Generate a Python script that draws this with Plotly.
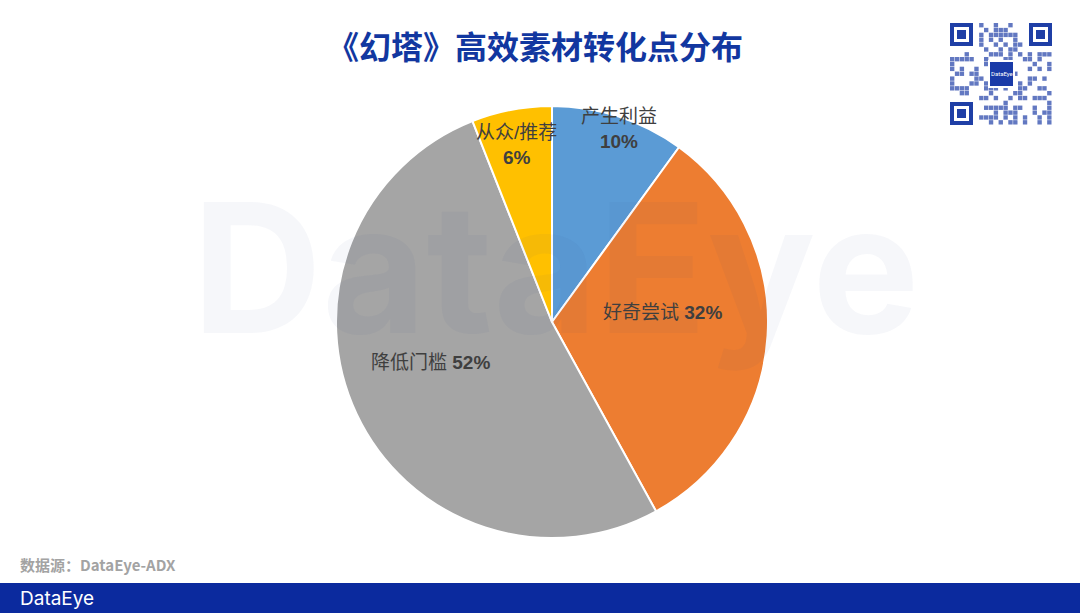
import hashlib
import plotly.graph_objects as go

# 数据
categories = ["产生利益", "好奇尝试", "降低门槛", "从众/推荐"]
values = [10, 32, 52, 6]
colors = ["#5B9BD5", "#ED7D31", "#A5A5A5", "#FFC000"]

W, H = 1080, 613
FONT = "Noto Sans CJK SC"
LABEL_FONT = "Liberation Sans, Noto Sans CJK SC"


def px_x(x):
    return x / W


def px_y(y):
    return 1 - y / H


def text_at(x, y, text, size, color, family=FONT, xanchor="center"):
    return dict(
        x=px_x(x), y=px_y(y), xref="paper", yref="paper",
        xanchor=xanchor, yanchor="middle",
        text=text, showarrow=False, align="center",
        font=dict(family=family, size=size, color=color),
    )


fig = go.Figure()

fig.add_trace(
    go.Pie(
        labels=categories,
        values=values,
        sort=False,
        direction="clockwise",
        rotation=0,
        marker=dict(colors=colors, line=dict(color="white", width=2)),
        textinfo="none",
        hoverinfo="label+percent",
        domain=dict(x=[px_x(336), px_x(768)], y=[px_y(538), px_y(106)]),
        showlegend=False,
    )
)

# 扇区标签 (位置按参考图)
label_pos = {
    "产生利益": (619, 129, True),
    "好奇尝试": (662, 313, False),
    "降低门槛": (430, 362, False),
    "从众/推荐": (516, 145, True),
}
annotations = []

# 水印
annotations.append(
    text_at(555, 268, "<b>DataEye</b>", 180, "rgba(40,70,150,0.045)",
            family="Inter, Roboto, sans-serif")
)

for cat, val in zip(categories, values):
    x, y, two_line = label_pos[cat]
    sep = "<br>" if two_line else " "
    annotations.append(
        text_at(x, y, f"{cat}{sep}<b>{val}%</b>", 19, "#3F3F3F", family=LABEL_FONT)
    )

# 标题
annotations.append(
    text_at(535, 45, "<b>《幻塔》高效素材转化点分布</b>", 32, "#1237A0")
)

# 数据源
annotations.append(
    text_at(18, 564, "<b>数据源：DataEye-ADX</b>", 15, "#A3A3A3", xanchor="left")
)

# 底部 logo
annotations.append(
    text_at(18, 598, "DataEye", 19, "white",
            family="Inter, Roboto, sans-serif", xanchor="left")
)

shapes = [
    # 底部蓝条
    dict(type="rect", xref="paper", yref="paper", x0=0, x1=1, y0=0, y1=px_y(583),
         fillcolor="#0B2A9E", line=dict(width=0), layer="below"),
]

# 二维码 (简化示意)
qr_x0, qr_y0, qr_x1, qr_y1 = 950, 23, 1052, 125
qr_col = "#1F3FA6"
n = 21
cell = (qr_x1 - qr_x0) / n
bits = "".join(f"{b:08b}" for b in hashlib.sha256("《幻塔》高效素材转化点分布".encode()).digest() * 2)
k = 0
for r in range(n):
    for c in range(n):
        in_finder = (r < 6 and c < 6) or (r < 6 and c > n - 7) or (r > n - 7 and c < 6)
        in_logo = 8 <= r <= 12 and 8 <= c <= 12
        if in_finder or in_logo:
            continue
        k += 1
        if bits[k % len(bits)] != "1":
            continue
        cx = qr_x0 + c * cell
        cy = qr_y0 + r * cell
        shapes.append(dict(type="rect", xref="paper", yref="paper",
                           x0=px_x(cx), x1=px_x(cx + cell * 0.9),
                           y0=px_y(cy + cell * 0.9), y1=px_y(cy),
                           fillcolor="rgba(31,63,166,0.7)", line=dict(width=0)))
for fx, fy in [(qr_x0, qr_y0), (qr_x1 - 23, qr_y0), (qr_x0, qr_y1 - 23)]:
    shapes.append(dict(type="rect", xref="paper", yref="paper",
                       x0=px_x(fx + 2), x1=px_x(fx + 21), y0=px_y(fy + 21), y1=px_y(fy + 2),
                       fillcolor="white", line=dict(color=qr_col, width=4)))
    shapes.append(dict(type="rect", xref="paper", yref="paper",
                       x0=px_x(fx + 7), x1=px_x(fx + 16), y0=px_y(fy + 16), y1=px_y(fy + 7),
                       fillcolor=qr_col, line=dict(width=0)))
shapes.append(dict(type="rect", xref="paper", yref="paper",
                   x0=px_x(989), x1=px_x(1014), y0=px_y(87), y1=px_y(61),
                   fillcolor="#1A3BA8", line=dict(color="white", width=2)))
annotations.append(text_at(1001.5, 74, "DataEye", 6, "white", family="Roboto"))

fig.update_layout(
    width=W,
    height=H,
    margin=dict(l=0, r=0, t=0, b=0),
    paper_bgcolor="white",
    plot_bgcolor="white",
    annotations=annotations,
    shapes=shapes,
)

fig.write_html(
    "out.html",
    config={"displayModeBar": False},
    post_script="document.body.style.margin='0';document.body.style.overflow='hidden';",
)
